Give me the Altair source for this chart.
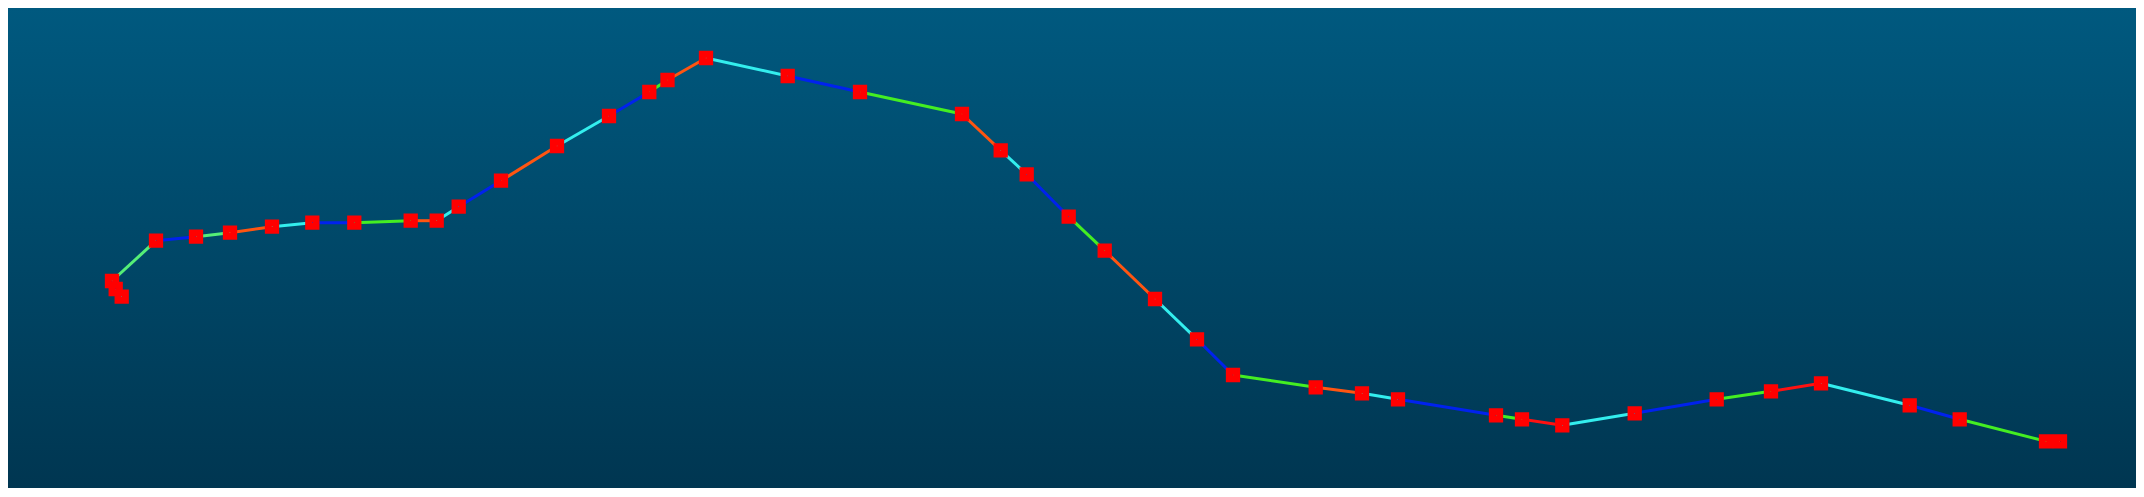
import altair as alt
import pandas as pd

# point positions (x to the right, y upward)
xs = [113.7, 107.7, 104, 148, 188, 222, 264, 304.3, 346.3, 402.7, 428.7, 450.7,
      493, 549, 601, 641.3, 659.5, 698, 779.7, 852, 954, 992.7, 1018.7, 1060.7,
      1096.7, 1147, 1189, 1225, 1307.7, 1354, 1390, 1488, 1514, 1554.3, 1626.7,
      1708.7, 1763, 1813, 1901.7, 1951.7, 2038, 2052]
ys = [191.3, 199, 207, 247.3, 251.3, 255.3, 261.3, 265.3, 265.3, 267.3, 267.3, 281.3,
      307.3, 342, 372, 396, 408, 430, 412, 396, 374, 337.7, 313.7, 271.3,
      237.3, 189, 148.7, 113, 100.7, 94.7, 88.7, 72.7, 68.7, 62.7, 74.7,
      88.7, 96.7, 104.7, 82.7, 68.7, 46.7, 46.7]

# colour of each segment between consecutive points
seg_colors = ["cyan", "blue", "lightgreen", "blue", "lightgreen", "orange", "cyan", "blue",
              "green", "orange", "cyan", "blue", "orange", "cyan", "blue", "green",
              "orange", "cyan", "blue", "green", "orange", "cyan", "blue", "green",
              "orange", "cyan", "blue", "green", "orange", "cyan", "blue", "green",
              "red", "cyan", "blue", "green", "red", "cyan", "blue", "green", "orange"]

color_names = ["lightgreen", "green", "orange", "cyan", "blue", "red"]
color_values = ["#55ee77", "#44ee22", "#ff5511", "#33eeee", "#0022ee", "#ff1111"]

W, H = 2128, 480

points = pd.DataFrame({"x": xs, "y": ys})
segs = pd.DataFrame({
    "x": xs[:-1], "y": ys[:-1], "x2": xs[1:], "y2": ys[1:], "c": seg_colors,
})

xscale = alt.Scale(domain=[0, W], nice=False, zero=False)
yscale = alt.Scale(domain=[0, H], nice=False, zero=False)

bg = alt.Chart(pd.DataFrame({"a": [0]})).mark_rect(
    fill=alt.LinearGradient(
        gradient="linear",
        stops=[alt.GradientStop(color="#00597f", offset=0),
               alt.GradientStop(color="#003651", offset=1)],
        x1=0, x2=0, y1=0, y2=1,
    )
).encode(x=alt.value(0), x2=alt.value(W), y=alt.value(0), y2=alt.value(H))

lines = alt.Chart(segs).mark_rule(strokeWidth=3).encode(
    x=alt.X("x:Q", scale=xscale, axis=None),
    y=alt.Y("y:Q", scale=yscale, axis=None),
    x2="x2:Q",
    y2="y2:Q",
    color=alt.Color("c:N", scale=alt.Scale(domain=color_names, range=color_values), legend=None),
)

markers = alt.Chart(points).mark_point(
    shape="square", filled=False, size=56, strokeWidth=6.8, color="#ff0000", opacity=1
).encode(
    x=alt.X("x:Q", scale=xscale, axis=None),
    y=alt.Y("y:Q", scale=yscale, axis=None),
)

chart = alt.layer(bg, lines, markers).properties(
    width=W, height=H, padding=0
).configure_view(stroke=None)

chart.save("out.html", embed_options={"renderer": "svg", "actions": False})
